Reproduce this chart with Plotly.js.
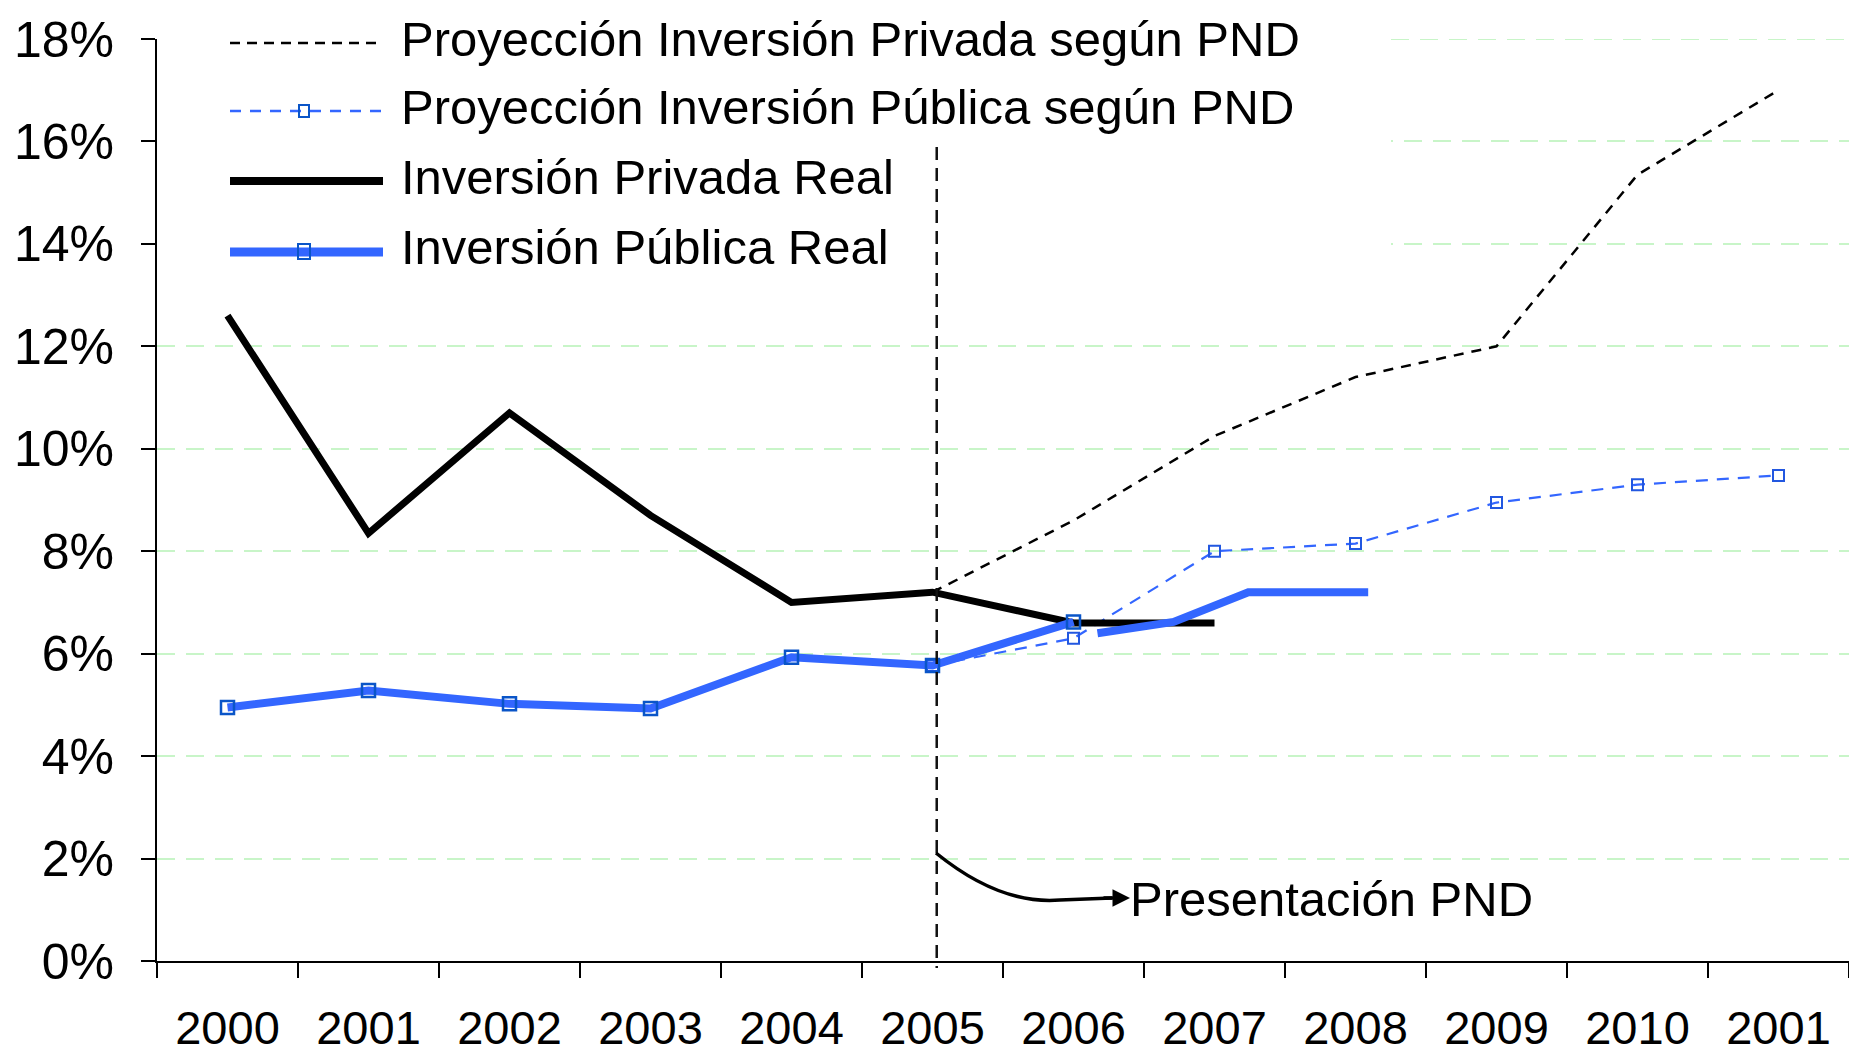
<!DOCTYPE html>
<html>
<head>
<meta charset="utf-8">
<script src="https://cdn.plot.ly/plotly-3.0.1.min.js"></script>
<style>html,body{margin:0;padding:0;background:#fff;}#chart{width:1849px;height:1058px;}</style>
</head>
<body>
<div id="chart"></div>
<script>
// ---- Data ----
const yearPos = [2000, 2001, 2002, 2003, 2004, 2005, 2006, 2007, 2008, 2009, 2010, 2011];
const yearLabels = ['2000', '2001', '2002', '2003', '2004', '2005', '2006', '2007', '2008', '2009', '2010', '2001'];

const realPrivYears = [2000, 2001, 2002, 2003, 2004, 2005, 2006, 2007];
const realPrivValues = [12.6, 8.35, 10.7, 8.7, 7.0, 7.2, 6.6, 6.6];

const realPubYears = [2000, 2001, 2002, 2003, 2004, 2005, 2006];
const realPubValues = [4.95, 5.28, 5.02, 4.93, 5.93, 5.77, 6.62];

const projYears = [2005, 2006, 2007, 2008, 2009, 2010, 2011];
const projPrivValues = [7.2, 8.6, 10.25, 11.4, 12.0, 15.35, 17.0];
const projPubValues = [5.77, 6.3, 8.0, 8.15, 8.95, 9.3, 9.48];

// extra thick segment of public investment drawn after 2006
const realPubTailX = [2006.17, 2006.71, 2007.24, 2008.09];
const realPubTailValues = [6.4, 6.62, 7.2, 7.2];

const legendNames = [
  'Proyección Inversión Privada según PND',
  'Proyección Inversión Pública según PND',
  'Inversión Privada Real',
  'Inversión Pública Real'
];
const pndYear = 2005.03;
const pndLabel = 'Presentación PND';

// ---- Geometry helpers (plot area in pixels) ----
const L = 157, R = 1849, T = 39, B = 961;
const XMIN = 1999.5, XMAX = 2011.5, YMIN = 0, YMAX = 18;
const px = x => (x - L) / (R - L);
const py = y => (B - y) / (B - T);
const dx = x => XMIN + (x - L) / (R - L) * (XMAX - XMIN);
const dy = y => YMIN + (B - y) / (B - T) * (YMAX - YMIN);

const BLACK = '#000000';
const BLUE = '#3366ff';
const MARK = '#0a55c8';
const GRID = '#c8f5c8';
const FONT = 'Liberation Sans, Arial, sans-serif';

const traces = [
  {
    x: projYears, y: projPrivValues, name: legendNames[0], type: 'scatter', mode: 'lines',
    line: {color: BLACK, width: 2.5, dash: '10px,8px'}
  },
  {
    x: projYears, y: projPubValues, name: legendNames[1], type: 'scatter', mode: 'lines+markers',
    line: {color: BLUE, width: 2.2, dash: '12px,9px'},
    marker: {symbol: 'square-open', size: 11, color: '#2257e0', line: {width: 2}}
  },
  {
    x: realPrivYears, y: realPrivValues, name: legendNames[2], type: 'scatter', mode: 'lines',
    line: {color: BLACK, width: 7}
  },
  {
    x: realPubYears, y: realPubValues, name: legendNames[3], type: 'scatter', mode: 'lines+markers',
    line: {color: BLUE, width: 8},
    marker: {symbol: 'square-open', size: 13, color: MARK, line: {width: 2.5}}
  },
  {
    x: realPubTailX, y: realPubTailValues, name: legendNames[3], type: 'scatter', mode: 'lines',
    line: {color: BLUE, width: 8}, showlegend: false
  }
];

const boundaries = yearPos.map(v => v - 0.5).concat([yearPos[yearPos.length - 1] + 0.5]);

// custom legend
const rowsY = [40, 108, 178, 248];
const sampleX0 = 230, sampleX1 = 383, textX = 399, markX = 304;
const shapes = [
  // white legend box hiding the gridlines behind it
  {type: 'rect', xref: 'x', yref: 'y', x0: XMIN, x1: dx(1391), y0: dy(290), y1: YMAX + 0.5,
   fillcolor: '#ffffff', line: {width: 0}, layer: 'between'},
  // top gridline (18%) right of the legend box
  {type: 'line', xref: 'x', yref: 'y', x0: dx(1391), x1: XMAX, y0: YMAX, y1: YMAX,
   line: {color: GRID, width: 2, dash: '18px,11px'}, layer: 'between'},
  {type: 'line', xref: 'paper', yref: 'paper', x0: px(sampleX0), x1: px(sampleX1), y0: py(rowsY[0] + 3), y1: py(rowsY[0] + 3),
   line: {color: BLACK, width: 2.5, dash: '10px,7px'}},
  {type: 'line', xref: 'paper', yref: 'paper', x0: px(sampleX0), x1: px(sampleX1), y0: py(rowsY[1] + 3), y1: py(rowsY[1] + 3),
   line: {color: BLUE, width: 2.5, dash: '11px,9px'}},
  {type: 'rect', xref: 'paper', yref: 'paper', x0: px(markX - 5), x1: px(markX + 5), y0: py(rowsY[1] + 9), y1: py(rowsY[1] - 3),
   line: {color: MARK, width: 2}, fillcolor: 'rgba(0,0,0,0)'},
  {type: 'line', xref: 'paper', yref: 'paper', x0: px(sampleX0), x1: px(sampleX1), y0: py(rowsY[2] + 3), y1: py(rowsY[2] + 3),
   line: {color: BLACK, width: 8}},
  {type: 'line', xref: 'paper', yref: 'paper', x0: px(sampleX0), x1: px(sampleX1), y0: py(rowsY[3] + 4), y1: py(rowsY[3] + 4),
   line: {color: BLUE, width: 9}},
  {type: 'rect', xref: 'paper', yref: 'paper', x0: px(markX - 6), x1: px(markX + 6), y0: py(rowsY[3] + 11), y1: py(rowsY[3] - 4),
   line: {color: MARK, width: 2}, fillcolor: 'rgba(0,0,0,0)'},
  // vertical dashed line: PND presentation
  {type: 'line', xref: 'paper', yref: 'paper',
   x0: (pndYear - XMIN) / (XMAX - XMIN), x1: (pndYear - XMIN) / (XMAX - XMIN), y0: py(147), y1: py(968),
   line: {color: '#111111', width: 2.5, dash: '13px,8px'}, layer: 'above'},
  // curved arrow
  {type: 'path', xref: 'paper', yref: 'paper',
   path: 'M ' + px(936) + ' ' + py(853) + ' Q ' + px(1000) + ' ' + py(905) + ' ' + px(1060) + ' ' + py(900) + ' L ' + px(1112) + ' ' + py(898),
   line: {color: BLACK, width: 3.5}, layer: 'above'}
];

const annotations = legendNames.map((t, i) => ({
  xref: 'paper', yref: 'paper', x: px(textX), y: py(rowsY[i] - 1), xanchor: 'left', yanchor: 'middle',
  text: t, showarrow: false, font: {family: FONT, size: 49, color: '#000'}
}));
annotations.push({
  xref: 'paper', yref: 'paper', x: px(1128), y: py(899), xanchor: 'left', yanchor: 'middle',
  text: pndLabel, showarrow: false, font: {family: FONT, size: 49, color: '#000'}
});
annotations.push({
  xref: 'paper', yref: 'paper', x: px(1130), y: py(898), text: '', showarrow: true,
  ax: -28, ay: 0, arrowhead: 2, arrowsize: 1, arrowwidth: 3.5, arrowcolor: BLACK, standoff: 0
});

const layout = {
  width: 1849, height: 1058,
  margin: {l: L, r: 1849 - R, t: T, b: 1058 - B},
  paper_bgcolor: '#ffffff', plot_bgcolor: '#ffffff',
  showlegend: false,
  font: {family: FONT, color: '#000'},
  xaxis: {
    type: 'linear', range: [XMIN, XMAX], fixedrange: true,
    tickmode: 'array', tickvals: yearPos, ticktext: yearLabels,
    ticks: 'outside', ticklen: 15, tickcolor: 'rgba(0,0,0,0)',
    ticklabelstandoff: 10,
    tickfont: {family: FONT, size: 47, color: '#000'},
    showgrid: false, zeroline: false,
    showline: true, linecolor: '#000', linewidth: 2,
    minor: {tickmode: 'array', tickvals: boundaries, ticks: 'outside', ticklen: 15, tickwidth: 2, tickcolor: '#000', showgrid: false}
  },
  yaxis: {
    range: [YMIN, YMAX], fixedrange: true,
    tickmode: 'linear', tick0: 0, dtick: 2, ticksuffix: '%',
    ticks: 'outside', ticklen: 14, tickwidth: 2, tickcolor: '#000',
    ticklabelstandoff: 17,
    tickfont: {family: FONT, size: 50, color: '#000'},
    showgrid: true, gridcolor: GRID, gridwidth: 2, griddash: '18px,11px',
    zeroline: false, showline: true, linecolor: '#000', linewidth: 2
  },
  shapes: shapes,
  annotations: annotations
};

Plotly.newPlot('chart', traces, layout, {displayModeBar: false, staticPlot: true});
</script>
</body>
</html>
